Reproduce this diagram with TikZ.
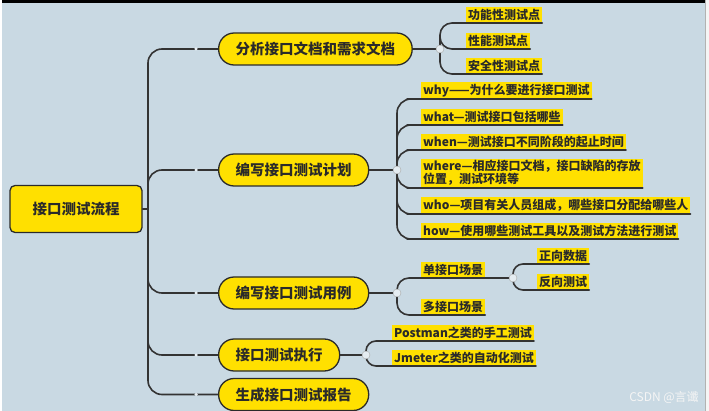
\documentclass[tikz,border=0pt]{standalone}
\usepackage{fontspec}
\setmainfont{Noto Sans CJK SC}
\usetikzlibrary{calc}
\definecolor{amarillo}{HTML}{FFE000}
\definecolor{fondo}{HTML}{C9D9E3}
\definecolor{tinta}{HTML}{2A2A2A}
\definecolor{linea}{HTML}{333333}

\begin{document}
\begin{tikzpicture}[x=1pt, y=-1pt, line cap=round, line join=round,
  raiz/.style={draw=tinta, line width=1.3pt, fill=amarillo, rounded corners=5pt,
    minimum width=132pt, minimum height=47pt, text=tinta,
    font=\bfseries\fontsize{14.5}{16}\selectfont},
  rama/.style={draw=tinta, line width=1.3pt, fill=amarillo, rounded corners=15.5pt,
    minimum height=32pt, inner xsep=17pt, anchor=west, text=tinta,
    font=\bfseries\fontsize{14.5}{16}\selectfont},
  hoja/.style={fill=amarillo, inner xsep=2pt, inner ysep=2pt, minimum height=16pt,
    anchor=south west, align=left, text=tinta,
    font=\bfseries\fontsize{12}{13}\selectfont},
  conector/.style={draw=linea, line width=1.6pt, rounded corners=14pt},
  nudo/.style={circle, fill=fondo!50!white, draw=gray!70, line width=0.4pt,
    minimum size=8pt, inner sep=0pt},
  punto/.style={circle, fill=fondo!40!white, minimum size=3.5pt, inner sep=0pt}]

  % Fondo y marco de la captura
  \useasboundingbox (0,0) rectangle (709,411);
  \fill[fondo] (0,0) rectangle (709,411);
  \fill[black] (0,0) rectangle (705,3);
  \fill[white] (0,0) rectangle (2,411);
  \fill[white!92!gray] (705,0) rectangle (709,411);
  \draw[gray!60, line width=0.6pt] (705,0) -- (705,411);

  % Nodo raiz y tronco
  \node[raiz] (raiz) at (76,209) {接口测试流程};
  \coordinate (tronco) at (148,209);

  % Ramas principales
  \node[rama] (analisis) at (218,49) {分析接口文档和需求文档};
  \node[rama] (plan) at (218,170) {编写接口测试计划};
  \node[rama] (casos) at (218,293) {编写接口测试用例};
  \node[rama] (ejecucion) at (218,355) {接口测试执行};
  \node[rama] (informe) at (218,394.5) {生成接口测试报告};

  % Puntos de union
  \coordinate (janalisis) at (440,49);
  \coordinate (jplan) at (397,170);
  \coordinate (jcasos) at (397,293);
  \coordinate (junico) at (513,278);
  \coordinate (jejec) at (366,355);

  % Hojas: analisis
  \node[hoja] (funcional) at (466,23) {功能性测试点};
  \node[hoja] (rendimiento) at (466,49) {性能测试点};
  \node[hoja] (seguridad) at (466,74) {安全性测试点};

  % Hojas: plan
  \node[hoja] (why) at (421,99) {why——为什么要进行接口测试};
  \node[hoja] (what) at (421,125) {what—测试接口包括哪些};
  \node[hoja] (when) at (421,150) {when—测试接口不同阶段的起止时间};
  \node[hoja] (where) at (421,188) {where—相应接口文档，接口缺陷的存放\\位置，测试环境等};
  \node[hoja] (who) at (421,214) {who—项目有关人员组成，哪些接口分配给哪些人};
  \node[hoja] (how) at (421,239) {how—使用哪些测试工具以及测试方法进行测试};

  % Hojas: casos
  \node[hoja] (unico) at (421,278) {单接口场景};
  \node[hoja] (multiple) at (421,315) {多接口场景};
  \node[hoja] (positivo) at (537,264) {正向数据};
  \node[hoja] (negativo) at (537,290) {反向测试};

  % Hojas: ejecucion
  \node[hoja] (manual) at (392,341) {Postman之类的手工测试};
  \node[hoja] (auto) at (392,366) {Jmeter之类的自动化测试};

  % Conectores del tronco
  \draw[conector] (raiz.east) -- (tronco);
  \foreach \r in {analisis,plan,casos,ejecucion,informe}
    \draw[conector] (tronco) |- (\r.west);

  % Conectores de segundo nivel
  \draw[conector] (analisis.east) -- (janalisis);
  \draw[conector] (plan.east) -- (jplan);
  \draw[conector] (casos.east) -- (jcasos);
  \draw[conector] (ejecucion.east) -- (jejec);
  \foreach \h in {funcional,rendimiento,seguridad}
    \draw[conector, rounded corners=12pt] (janalisis) |- (\h.south west) -- (\h.south east);
  \foreach \h in {why,what,when,where,who,how}
    \draw[conector] (jplan) |- (\h.south west) -- (\h.south east);
  \foreach \h in {unico,multiple}
    \draw[conector, rounded corners=12pt] (jcasos) |- (\h.south west) -- (\h.south east);
  \draw[conector] (unico.south east) -- (junico);
  \foreach \h in {positivo,negativo}
    \draw[conector, rounded corners=10pt] (junico) |- (\h.south west) -- (\h.south east);
  \foreach \h in {manual,auto}
    \draw[conector, rounded corners=10pt] (jejec) |- (\h.south west) -- (\h.south east);

  % Marcas sobre las lineas
  \foreach \r/\y in {p1/49,p2/170,p3/293,p4/355,p5/394.5}
    \node[punto] (\r) at (196,\y) {};
  \node[nudo] (njanalisis) at (janalisis) {};
  \node[nudo] (njplan) at (jplan) {};
  \node[nudo] (njcasos) at (jcasos) {};
  \node[nudo] (njunico) at (junico) {};
  \node[nudo] (njejec) at (jejec) {};

  % Marca de agua
  \node[white!92!gray, font=\fontsize{12}{13}\selectfont] (marca) at (664,397) {CSDN @言谶};
\end{tikzpicture}
\end{document}
